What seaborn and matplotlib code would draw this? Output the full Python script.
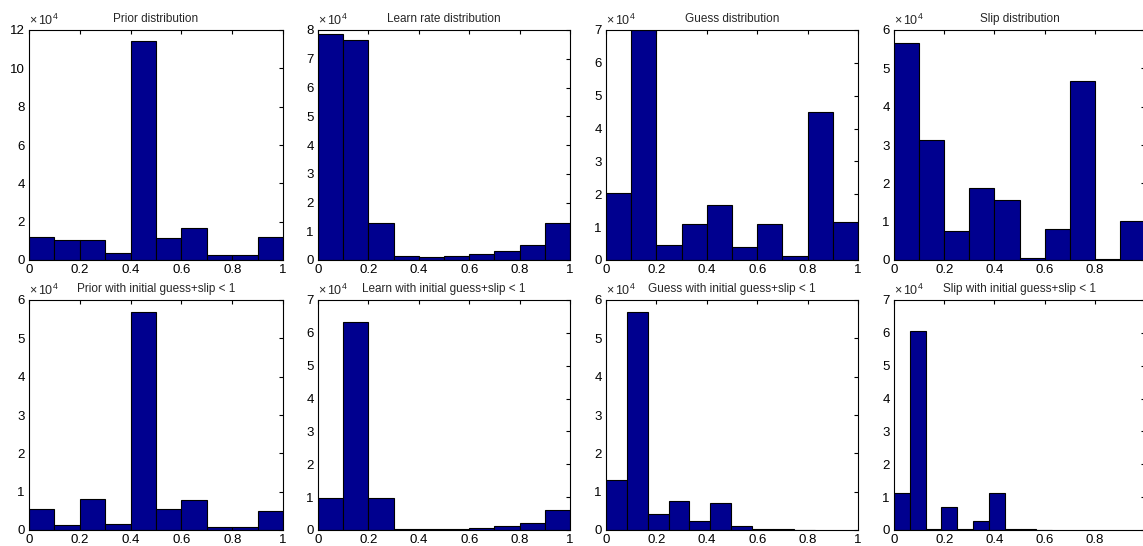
import numpy as np
import pandas as pd
import matplotlib
matplotlib.use("Agg")
import matplotlib.pyplot as plt
import seaborn as sns

# bar heights in units of 1e4, 10 bins per panel
titles = ["Prior distribution", "Learn rate distribution",
          "Guess distribution", "Slip distribution",
          "Prior with initial guess+slip < 1", "Learn with initial guess+slip < 1",
          "Guess with initial guess+slip < 1", "Slip with initial guess+slip < 1"]

prior_all = [1.18, 1.04, 1.04, 0.35, 11.44, 1.13, 1.65, 0.26, 0.26, 1.18]
learn_all = [7.87, 7.65, 1.30, 0.14, 0.09, 0.14, 0.21, 0.33, 0.52, 1.30]
guess_all = [2.05, 7.00, 0.46, 1.09, 1.67, 0.39, 1.09, 0.12, 4.51, 1.16]
slip_all = [5.65, 3.13, 0.76, 1.87, 1.57, 0.04, 0.80, 4.68, 0.02, 1.03]

prior_ok = [0.54, 0.12, 0.80, 0.15, 5.70, 0.54, 0.78, 0.09, 0.09, 0.49]
learn_ok = [0.96, 6.34, 0.96, 0.03, 0.03, 0.03, 0.06, 0.11, 0.20, 0.61]
guess_ok = [1.30, 5.70, 0.41, 0.76, 0.24, 0.70, 0.11, 0.02, 0.02, 0.01]
slip_ok = [1.13, 6.06, 0.03, 0.70, 0.02, 0.27, 1.13, 0.02, 0.02, 0.01]

# upper end of the binned data range, y-axis max
bin_max = [1, 1, 1, 1, 1, 1, 0.828, 0.63]
y_max = [12, 8, 7, 6, 6, 7, 6, 7]
x_labels = ["0", "0.2", "0.4", "0.6", "0.8", "1"]

series = [prior_all, learn_all, guess_all, slip_all,
          prior_ok, learn_ok, guess_ok, slip_ok]

sns.set_style("white")
plt.rcParams['font.family'] = ['Liberation Sans', 'DejaVu Sans']
plt.rcParams['mathtext.fontset'] = 'custom'
plt.rcParams['mathtext.rm'] = 'Liberation Sans'
plt.rcParams['mathtext.it'] = 'Liberation Sans'

W, H = 1143, 546
fig = plt.figure(figsize=(W / 100, H / 100), dpi=100)

lefts = [29, 318, 606, 894]
widths = [254, 252, 252, 251]
tops = [30, 300]
ax_h = 230

for i, counts in enumerate(series):
    row, col = divmod(i, 4)
    x0, w = lefts[col], widths[col]
    y0 = H - tops[row] - ax_h
    ax = fig.add_axes([x0 / W, y0 / H, w / W, ax_h / H])

    edges = np.linspace(0, bin_max[i], 11)
    df = pd.DataFrame({"x": (edges[:-1] + edges[1:]) / 2, "n": counts})
    sns.histplot(data=df, x="x", weights="n", bins=list(edges), ax=ax,
                 color="#00008f", edgecolor="black", linewidth=0.8, alpha=1)

    ax.set_xlim(0, 1)
    ax.set_ylim(0, y_max[i])
    ax.set_xticks(np.arange(0, 1.01, 0.2))
    labels = list(x_labels)
    if col == 3:
        labels[-1] = ""  # falls off the right edge of the image
    ax.set_xticklabels(labels)
    step = 2 if y_max[i] > 8 else 1
    ax.set_yticks(range(0, y_max[i] + 1, step))
    ax.set_xlabel("")
    ax.set_ylabel("")
    ax.tick_params(direction="in", length=3, width=0.8, labelsize=9.5,
                   top=True, right=True, pad=3, colors="black")
    for s in ax.spines.values():
        s.set_color("black")
        s.set_linewidth(0.8)
    ax.set_title(titles[i], fontsize=8.5, pad=6)
    ax.text(0, 1.008, r"$\times\,10^{4}$", transform=ax.transAxes,
            ha="left", va="bottom", fontsize=9)

fig.savefig("out.png", dpi=100)
